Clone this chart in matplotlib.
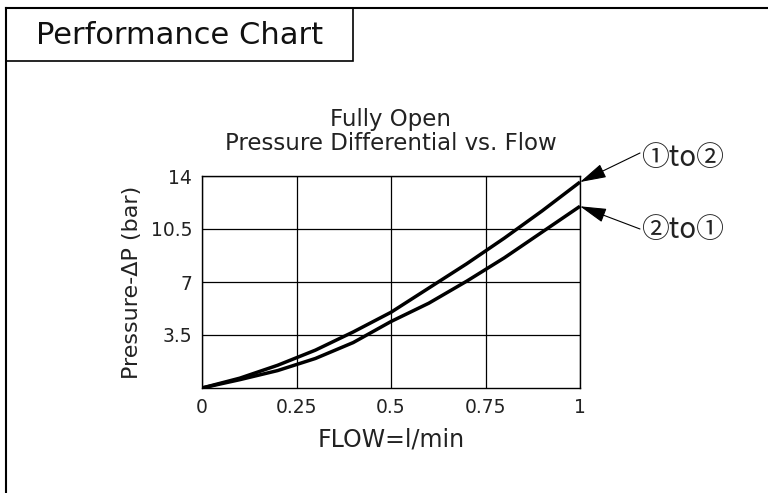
import matplotlib
matplotlib.use("Agg")
import matplotlib.pyplot as plt
from matplotlib.patches import Rectangle
from matplotlib.lines import Line2D

# ---- data ----
flow = [0, 0.1, 0.2, 0.3, 0.4, 0.5, 0.6, 0.7, 0.8, 0.9, 1.0]
dp_1to2 = [0, 0.65, 1.5, 2.5, 3.7, 5.0, 6.6, 8.2, 9.9, 11.7, 13.6]
dp_2to1 = [0, 0.55, 1.15, 1.95, 3.0, 4.39, 5.6, 7.05, 8.6, 10.3, 12.0]
xticks = [0, 0.25, 0.5, 0.75, 1]
xticklabels = ["0", "0.25", "0.5", "0.75", "1"]
yticks = [3.5, 7, 10.5, 14]
yticklabels = ["3.5", "7", "10.5", "14"]
label_1to2 = "①to②"
label_2to1 = "②to①"

W, H = 768, 493
fig = plt.figure(figsize=(W / 100, H / 100), dpi=100)
fam = ["DejaVu Sans", "Noto Sans CJK JP"]
plt.rcParams["font.family"] = fam
cjk = ["Noto Sans CJK JP", "DejaVu Sans"]

def fx(px):
    return px / W

def fy(py):
    return 1 - py / H

# outer border (top and left lines)
fig.add_artist(Line2D([fx(6), 1.0], [fy(8), fy(8)], color="black", lw=1.5))
fig.add_artist(Line2D([fx(6), fx(6)], [fy(8), 0.0], color="black", lw=1.5))
# title box
fig.add_artist(Rectangle((fx(6), fy(61)), fx(353) - fx(6), fy(8) - fy(61),
                         fill=False, edgecolor="black", lw=1.2))
fig.text(fx(180), fy(36), "Performance Chart", ha="center", va="center",
         fontsize=22, color="#111111")

ax = fig.add_axes([fx(202), fy(388), fx(580) - fx(202), fy(176) - fy(388)])
ax.plot(flow, dp_1to2, color="black", lw=2.5, solid_capstyle="butt", zorder=3)
ax.plot(flow, dp_2to1, color="black", lw=2.5, solid_capstyle="butt", zorder=3)
ax.set_xlim(0, 1)
ax.set_ylim(0, 14)
ax.set_xticks(xticks)
ax.set_xticklabels(xticklabels)
ax.set_yticks(yticks)
ax.set_yticklabels(yticklabels)
ax.tick_params(length=0, labelsize=13.5, pad=7, colors="#222222")
ax.grid(True, color="black", lw=0.9)
for s in ax.spines.values():
    s.set_linewidth(1.0)
ax.set_xlabel("FLOW=l/min", fontsize=17, labelpad=8, color="#222222")
ax.set_ylabel("Pressure-ΔP (bar)", fontsize=16, labelpad=6, color="#222222")
ax.set_title("Fully Open\nPressure Differential vs. Flow", fontsize=16.5,
             linespacing=1.05, pad=19, color="#222222")

# annotations: arrows from the label's left edge to the curve ends
arrow = dict(arrowstyle="-|>,head_length=1.1,head_width=0.3",
             color="black", lw=0.8, shrinkA=0, shrinkB=0, mutation_scale=15)
ax.annotate("", xy=(1.0, dp_1to2[-1]), xycoords="data",
            xytext=(fx(640), fy(153)), textcoords="figure fraction",
            arrowprops=arrow, annotation_clip=False)
ax.annotate("", xy=(1.0, dp_2to1[-1]), xycoords="data",
            xytext=(fx(640), fy(229)), textcoords="figure fraction",
            arrowprops=arrow, annotation_clip=False)
fig.text(fx(641), fy(158), label_1to2, ha="left", va="center",
         fontsize=20, family=cjk, color="#222222")
fig.text(fx(641), fy(230), label_2to1, ha="left", va="center",
         fontsize=20, family=cjk, color="#222222")

fig.savefig("out.png", dpi=100, facecolor="white")
